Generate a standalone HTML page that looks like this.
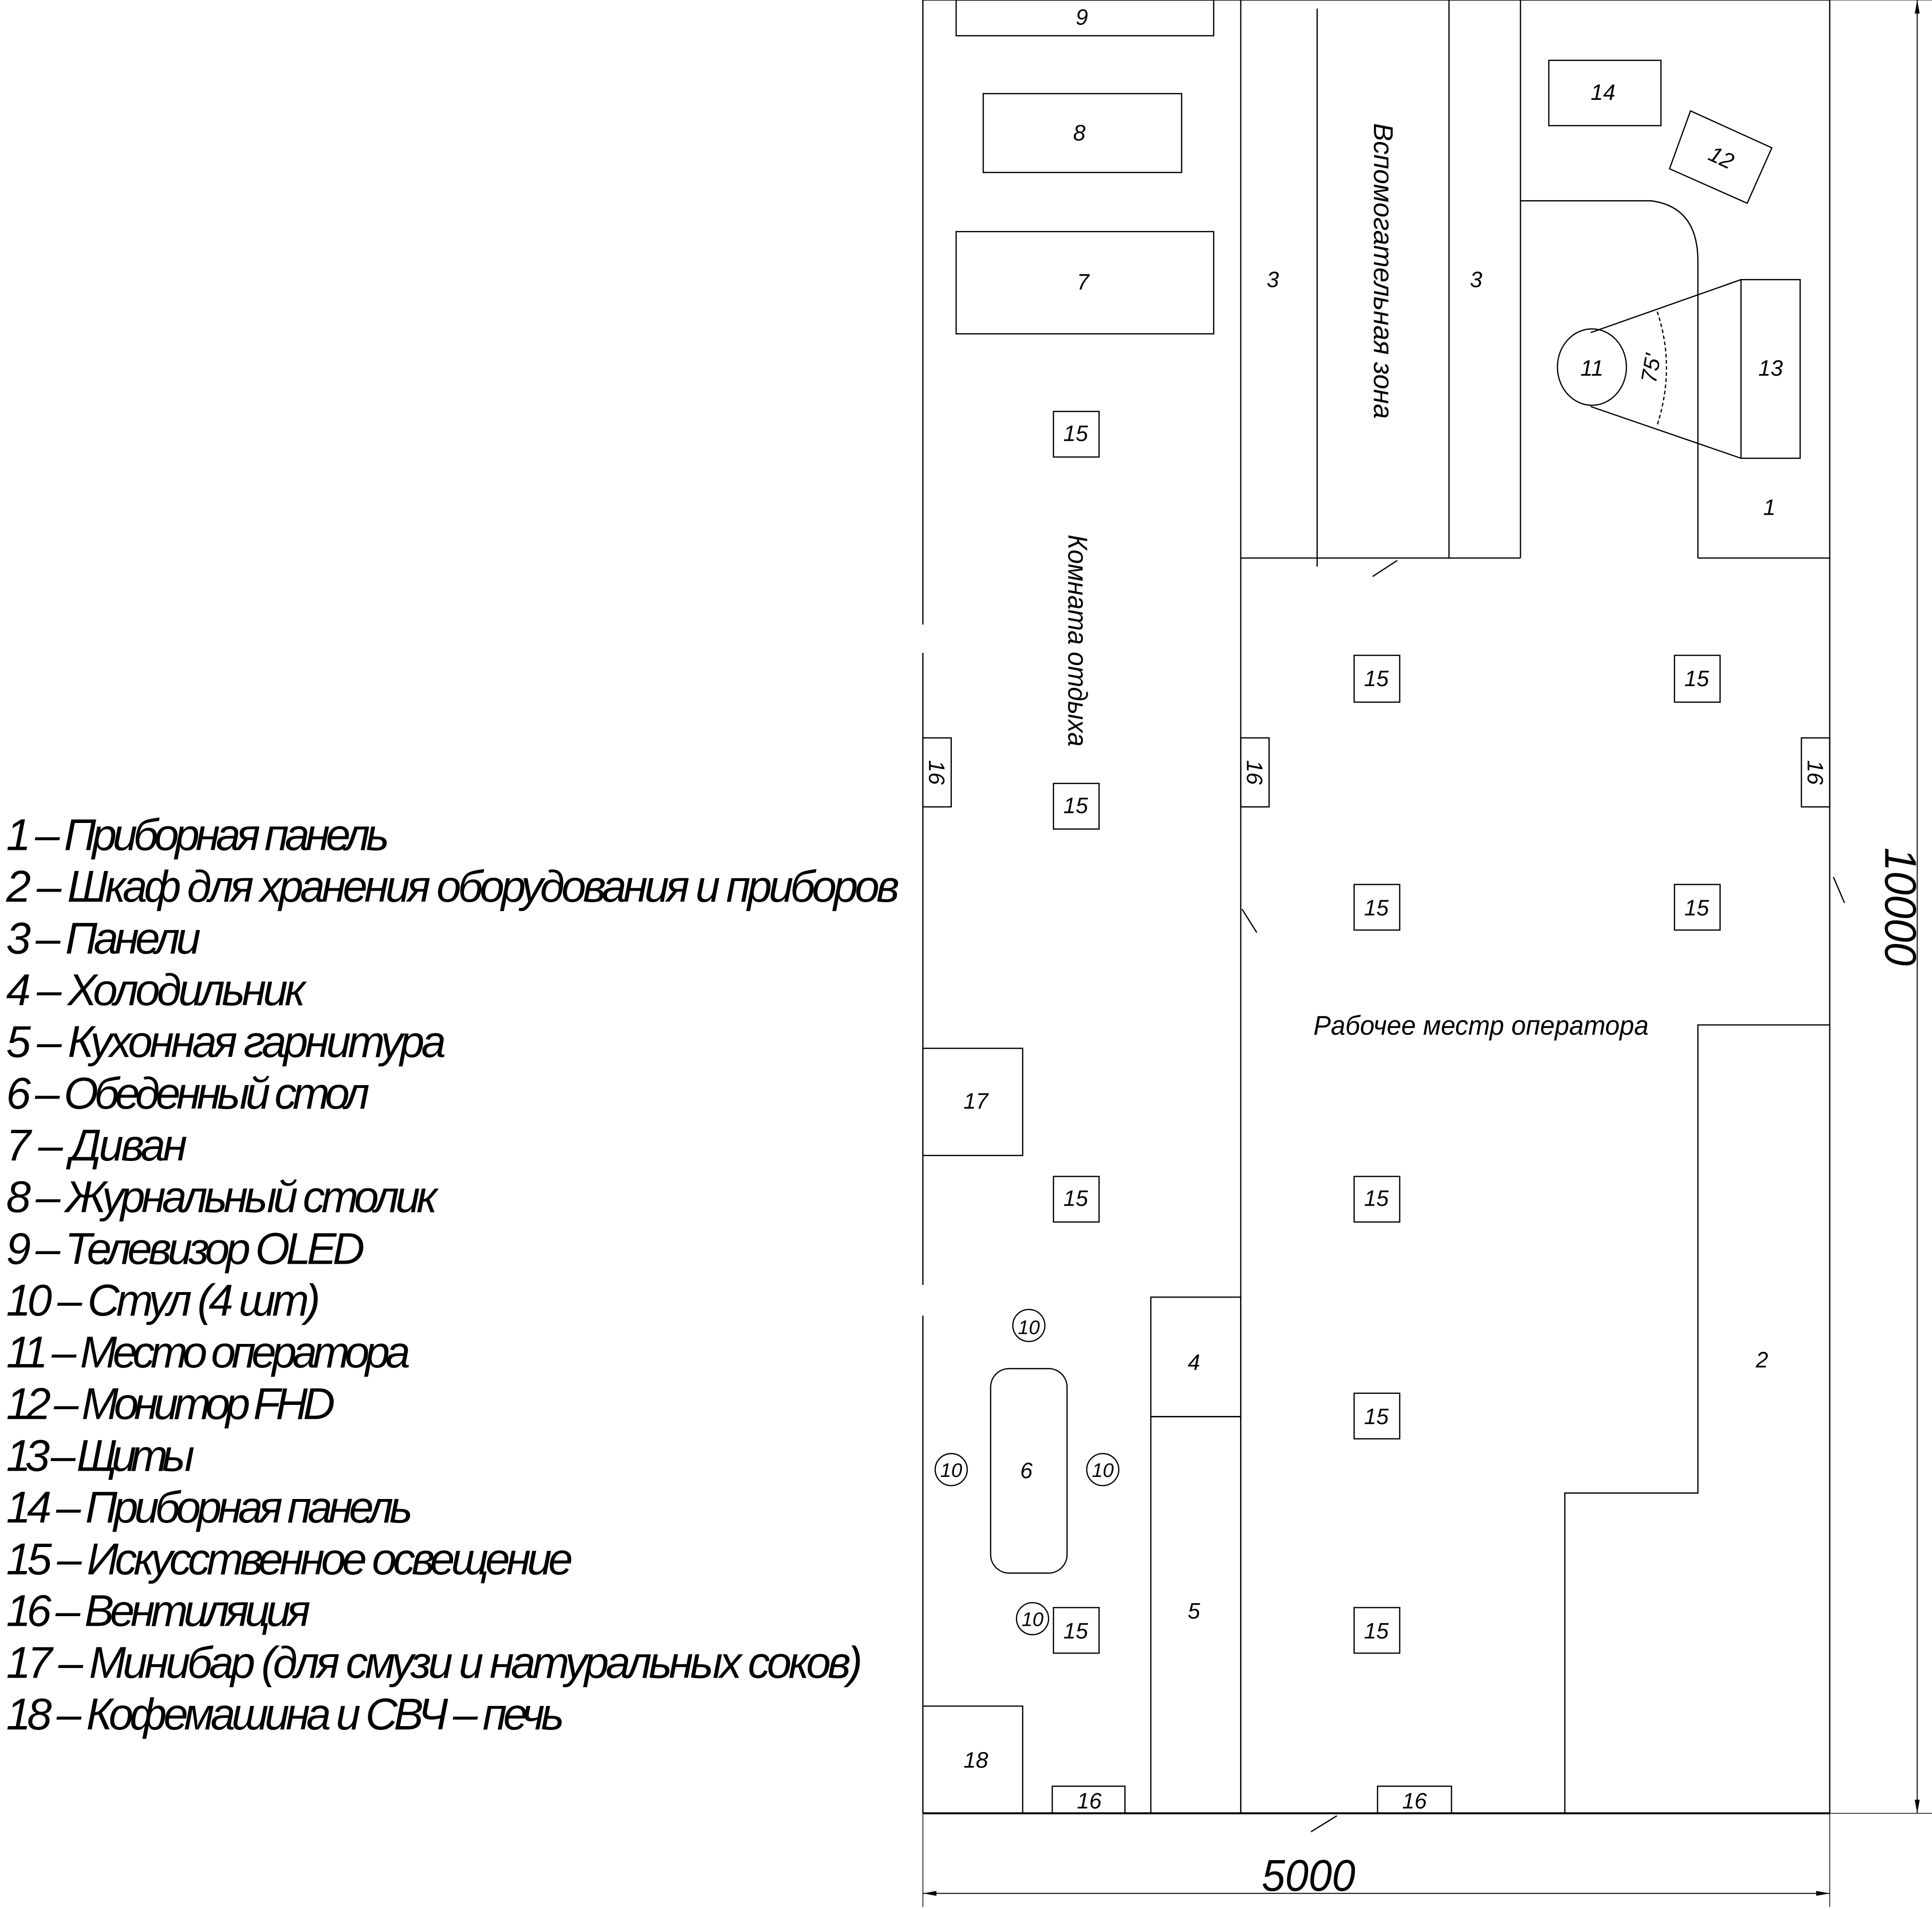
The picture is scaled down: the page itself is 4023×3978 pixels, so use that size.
<!DOCTYPE html>
<html><head><meta charset="utf-8"><style>
html,body{margin:0;padding:0;background:#fff;width:4023px;height:3978px;overflow:hidden}
svg{display:block}
text{font-family:"Liberation Sans","DejaVu Sans",sans-serif;font-style:italic;fill:#000}
</style></head><body>
<svg width="4023" height="3978" viewBox="0 0 1568 1550.5" preserveAspectRatio="none" xmlns="http://www.w3.org/2000/svg">
<g fill="none" stroke="#000" stroke-width="1">
<!-- outer walls -->
<line x1="749" y1="0" x2="1485" y2="0"/>
<line x1="749" y1="0" x2="749" y2="507"/>
<line x1="749" y1="530" x2="749" y2="1043"/>
<line x1="749" y1="1068" x2="749" y2="1472"/>
<line x1="1485" y1="0" x2="1485" y2="1472"/>
<line x1="749" y1="1472" x2="1485" y2="1472" stroke-width="1.6"/>
<line x1="1007" y1="0" x2="1007" y2="1472"/>
<!-- aux zone -->
<line x1="1069" y1="7" x2="1069" y2="460"/>
<line x1="1176" y1="0" x2="1176" y2="453"/>
<line x1="1234" y1="0" x2="1234" y2="453"/>
<line x1="1007" y1="453" x2="1234" y2="453"/>
<line x1="1378" y1="453" x2="1485" y2="453"/>
<path d="M1234 163 L1340 163 Q1378 168 1378 212 L1378 453"/>
<line x1="1114" y1="468" x2="1134" y2="455"/>
<rect x="1257" y="49" width="91" height="53"/>
<polygon points="1372,90 1438,120 1418,165 1355,137"/>
<rect x="1413" y="227" width="48" height="145"/>
<ellipse cx="1292" cy="298" rx="28" ry="31"/>
<line x1="1291" y1="270" x2="1413" y2="227"/>
<line x1="1291" y1="330" x2="1413" y2="372"/>
<path d="M1345 253 Q1360 298 1345 345" stroke-dasharray="3,2"/>
<!-- left room -->
<rect x="776" y="0" width="209" height="29"/>
<rect x="798" y="76" width="161" height="64"/>
<rect x="776" y="188" width="209" height="83"/>
<rect x="855" y="334" width="37" height="37"/>
<rect x="855" y="636" width="37" height="37"/>
<rect x="855" y="955" width="37" height="37"/>
<rect x="855" y="1305" width="37" height="37"/>
<rect x="749" y="599" width="23" height="56"/>
<rect x="1007" y="599" width="23" height="56"/>
<rect x="1462" y="599" width="23" height="56"/>
<rect x="854" y="1450" width="59" height="22"/>
<rect x="1118" y="1450" width="60" height="22"/>
<rect x="749" y="851" width="81" height="87"/>
<polyline points="749,1385 830,1385 830,1472"/>
<rect x="934" y="1053" width="73" height="97"/>
<rect x="934" y="1150" width="73" height="322"/>
<rect x="804" y="1111" width="62" height="166" rx="15"/>
<circle cx="835" cy="1076" r="13"/>
<circle cx="772" cy="1193" r="13"/>
<circle cx="895" cy="1193" r="13"/>
<circle cx="838" cy="1314" r="13"/>
<!-- operator area -->
<rect x="1099" y="532" width="37" height="38"/>
<rect x="1359" y="532" width="37" height="38"/>
<rect x="1099" y="718" width="37" height="37"/>
<rect x="1359" y="718" width="37" height="37"/>
<rect x="1099" y="955" width="37" height="37"/>
<rect x="1099" y="1131" width="37" height="37"/>
<rect x="1099" y="1305" width="37" height="37"/>
<polyline points="1485,832 1378,832 1378,1212 1270,1212 1270,1472"/>
<line x1="1008" y1="738" x2="1020" y2="757"/>
<line x1="1488" y1="712" x2="1497" y2="733"/>
<line x1="1064" y1="1487" x2="1085" y2="1474"/>
<!-- dimensions -->
<line x1="749" y1="1472" x2="749" y2="1548" stroke-width="0.6"/>
<line x1="1485" y1="1472" x2="1485" y2="1548" stroke-width="0.6"/>
<line x1="749" y1="1537" x2="1485" y2="1537" stroke-width="0.8"/>
<line x1="1485" y1="0" x2="1568" y2="0" stroke-width="0.6"/>
<line x1="1485" y1="1472" x2="1568" y2="1472" stroke-width="0.6"/>
<line x1="1556" y1="0" x2="1556" y2="1472" stroke-width="0.8"/>
</g>
<g fill="#000">
<polygon points="749,1537 760,1535 760,1539"/>
<polygon points="1485,1537 1474,1535 1474,1539"/>
<polygon points="1556,0 1554,11 1558,11"/>
<polygon points="1556,1472 1554,1461 1558,1461"/>
</g>
<g font-size="18" text-anchor="middle">
<text x="878" y="20">9</text>
<text x="876" y="114">8</text>
<text x="879" y="235">7</text>
<text x="1033" y="233">3</text>
<text x="1198" y="233">3</text>
<text x="1301" y="81">14</text>
<text x="1397" y="134" transform="rotate(25 1397 128)">12</text>
<text x="1292" y="305">11</text>
<text x="1437" y="305">13</text>
<text x="1436" y="418">1</text>
<text x="1340" y="305" transform="rotate(-80 1340 299)">75'</text>
<text x="873" y="358">15</text>
<text x="873" y="660">15</text>
<text x="873" y="979">15</text>
<text x="873" y="1330">15</text>
<text x="1117" y="557">15</text>
<text x="1377" y="557">15</text>
<text x="1117" y="743">15</text>
<text x="1377" y="743">15</text>
<text x="1117" y="979">15</text>
<text x="1117" y="1156">15</text>
<text x="1117" y="1330">15</text>
<text x="760" y="633" transform="rotate(90 760 627)">16</text>
<text x="1018" y="633" transform="rotate(90 1018 627)">16</text>
<text x="1473" y="633" transform="rotate(90 1473 627)">16</text>
<text x="884" y="1468">16</text>
<text x="1148" y="1468">16</text>
<text x="792" y="900">17</text>
<text x="792" y="1435">18</text>
<text x="969" y="1112">4</text>
<text x="969" y="1314">5</text>
<text x="833" y="1200">6</text>
<text x="835" y="1083" font-size="16">10</text>
<text x="772" y="1199" font-size="16">10</text>
<text x="895" y="1199" font-size="16">10</text>
<text x="838" y="1320" font-size="16">10</text>
<text x="1430" y="1110">2</text>
<text x="1121" y="226" font-size="22" transform="rotate(90 1121 220)" textLength="240" lengthAdjust="spacingAndGlyphs">Вспомогательная зона</text>
<text x="873" y="526" font-size="22" transform="rotate(90 873 520)" textLength="172" lengthAdjust="spacingAndGlyphs">Комната отдыха</text>
<text x="1202" y="840" font-size="22" textLength="272" lengthAdjust="spacingAndGlyphs">Рабочее местр оператора</text>
<text x="1062" y="1535" font-size="36" textLength="76" lengthAdjust="spacingAndGlyphs">5000</text>
<text x="1542" y="748" font-size="36" transform="rotate(90 1542 736)" textLength="96" lengthAdjust="spacingAndGlyphs">10000</text>
</g>
<g font-size="36" lengthAdjust="spacingAndGlyphs">
<text x="5" y="690" textLength="311">1 – Приборная панель</text>
<text x="5" y="732" textLength="725">2 – Шкаф для хранения оборудования и приборов</text>
<text x="5" y="774" textLength="158">3 – Панели</text>
<text x="5" y="816" textLength="243">4 – Холодильник</text>
<text x="5" y="858" textLength="357">5 – Кухонная гарнитура</text>
<text x="5" y="900" textLength="295">6 – Обеденный стол</text>
<text x="5" y="942" textLength="147">7 – Диван</text>
<text x="5" y="984" textLength="350">8 – Журнальный столик</text>
<text x="5" y="1026" textLength="291">9 – Телевизор OLED</text>
<text x="5" y="1068" textLength="255">10 – Стул (4 шт)</text>
<text x="5" y="1110" textLength="328">11 – Место оператора</text>
<text x="5" y="1152" textLength="267">12 – Монитор FHD</text>
<text x="5" y="1194" textLength="153">13 – Щиты</text>
<text x="5" y="1236" textLength="330">14 – Приборная панель</text>
<text x="5" y="1278" textLength="460">15 – Искусственное освещение</text>
<text x="5" y="1320" textLength="247">16 – Вентиляция</text>
<text x="5" y="1362" textLength="695">17 – Минибар (для смузи и натуральных соков)</text>
<text x="5" y="1404" textLength="453">18 – Кофемашина и СВЧ – печь</text>
</g>
</svg>
</body></html>
